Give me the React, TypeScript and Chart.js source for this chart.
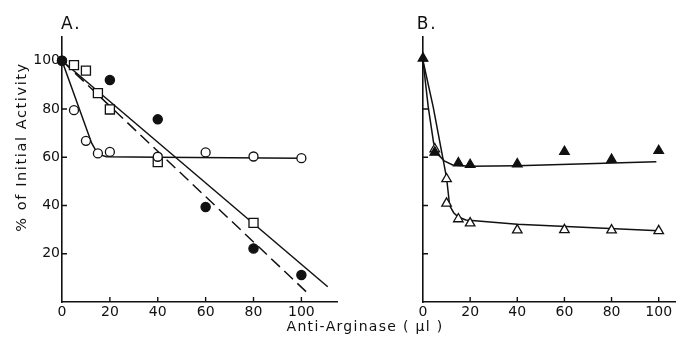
import React, { useEffect, useRef } from 'react';
import { Chart, registerables } from 'chart.js';

Chart.register(...registerables);

// ---------- tick values ----------
const xTickLabels = [0, 20, 40, 60, 80, 100];
const xTickMarks = [20, 40, 60, 80, 100];
const yTickLabelsA = [20, 40, 60, 80, 100];
const yTickMarks = [20, 40, 60, 80, 100];

// ---------- Panel A data ----------
const openCircleX = [0, 5, 10, 15, 20, 40, 60, 80, 100];
const openCircleY = [100, 79.5, 66.8, 61.6, 62.2, 60.2, 62, 60.3, 59.6];
const filledCircleX = [0, 20, 40, 60, 80, 100];
const filledCircleY = [100, 92, 75.7, 39.4, 22.2, 11.2];
const openSquareX = [5, 10, 15, 20, 40, 80];
const openSquareY = [98.2, 95.9, 86.6, 79.8, 58, 32.8];

const fitSolidX = [0, 111];
const fitSolidY = [100, 6.3];
const fitDashedX = [0, 103];
const fitDashedY = [100, 3.3];
const fitCircleX = [0, 12.4, 15, 18.6, 40, 100];
const fitCircleY = [100, 65.8, 61.3, 60.2, 60, 59.6];

// ---------- Panel B data ----------
const filledTriX = [0, 5, 15, 20, 40, 60, 80, 100];
const filledTriY = [101, 62, 57.6, 56.9, 57.2, 62.3, 59, 62.7];
const openTriX = [5, 10, 10, 15, 20, 40, 60, 80, 100];
const openTriY = [63.4, 51, 40.9, 34.4, 32.7, 29.8, 29.9, 29.8, 29.5];

const fitFilledTriX = [0, 2.2, 4.5, 6.5, 9, 12.6, 20, 40, 99];
const fitFilledTriY = [100, 81, 66, 61, 58.5, 56.8, 56.3, 56.5, 58.1];
const fitOpenTriX = [0, 4.3, 10, 11.3, 13, 15, 18.2, 40, 100];
const fitOpenTriY = [100, 81, 51.5, 40, 37, 35.2, 34, 32.2, 29.5];

const INK = '#111';
const FONT = 'DejaVu Sans';

const pts = (xs: number[], ys: number[]) => xs.map((x, i) => ({ x, y: ys[i] }));

// Lines get a high `order` so they are drawn beneath the markers.
const lineDs = (xs: number[], ys: number[], dash: number[] = []) => ({
  data: pts(xs, ys),
  showLine: true,
  borderColor: INK,
  borderWidth: 1.5,
  borderDash: dash,
  pointRadius: 0,
  fill: false,
  tension: 0,
  order: 10,
  clip: false as any,
});

const pointDs = (xs: number[], ys: number[], style: string, filled: boolean, radius: number, order: number) => ({
  data: pts(xs, ys),
  showLine: false,
  pointStyle: style,
  pointRadius: radius,
  pointBackgroundColor: filled ? INK : '#fff',
  pointBorderColor: INK,
  pointBorderWidth: 1.3,
  order,
  clip: false as any,
});

const tickMarkPlugin = (xs: number[], ys: number[]) => ({
  id: 'tickMarks',
  beforeDatasetsDraw(chart: any) {
    const { ctx, chartArea, scales } = chart;
    ctx.save();
    ctx.strokeStyle = INK;
    ctx.lineWidth = 1.4;
    ctx.beginPath();
    xs.forEach((v) => {
      const px = scales.x.getPixelForValue(v);
      ctx.moveTo(px, chartArea.bottom);
      ctx.lineTo(px, chartArea.bottom - 5);
    });
    ys.forEach((v) => {
      const py = scales.y.getPixelForValue(v);
      ctx.moveTo(chartArea.left, py);
      ctx.lineTo(chartArea.left + 5, py);
    });
    ctx.stroke();
    ctx.restore();
  },
});

const makeScales = (xMax: number, yAxisWidth: number, showYLabels: boolean) => ({
  x: {
    type: 'linear',
    min: 0,
    max: xMax,
    afterBuildTicks: (s: any) => {
      s.ticks = xTickLabels.map((v) => ({ value: v }));
    },
    afterFit: (s: any) => {
      s.height = 41;
    },
    ticks: { font: { family: FONT, size: 14 }, color: INK, padding: 2, maxRotation: 0 },
    grid: { display: false, drawTicks: false },
    border: { display: true, color: INK, width: 1.6 },
  },
  y: {
    type: 'linear',
    min: 0,
    max: 110,
    afterBuildTicks: (s: any) => {
      s.ticks = yTickLabelsA.map((v) => ({ value: v }));
    },
    afterFit: (s: any) => {
      s.width = yAxisWidth;
    },
    ticks: { display: showYLabels, font: { family: FONT, size: 14 }, color: INK, padding: 2 },
    grid: { display: false, drawTicks: false },
    border: { display: true, color: INK, width: 1.6 },
  },
});

const baseOptions = (xMax: number, yAxisWidth: number, showYLabels: boolean, padRight: number) => ({
  responsive: false,
  animation: false,
  devicePixelRatio: 1,
  layout: { padding: { left: 0, right: padRight, top: 36.6, bottom: 0 } },
  plugins: { legend: { display: false }, tooltip: { enabled: false } },
  scales: makeScales(xMax, yAxisWidth, showYLabels),
});

export default function App() {
  const refA = useRef<HTMLCanvasElement | null>(null);
  const refB = useRef<HTMLCanvasElement | null>(null);

  useEffect(() => {
    const chartA = new Chart(refA.current as HTMLCanvasElement, {
      type: 'scatter',
      data: {
        datasets: [
          pointDs(filledCircleX, filledCircleY, 'circle', true, 4.6, 1),
          pointDs(openCircleX, openCircleY, 'circle', false, 4.5, 2),
          pointDs(openSquareX, openSquareY, 'rect', false, 6.4, 3),
          lineDs(fitSolidX, fitSolidY),
          lineDs(fitDashedX, fitDashedY, [12, 6]),
          lineDs(fitCircleX, fitCircleY),
        ] as any,
      },
      options: baseOptions(115, 62, true, 7) as any,
      plugins: [tickMarkPlugin(xTickMarks, yTickMarks)],
    });

    const chartB = new Chart(refB.current as HTMLCanvasElement, {
      type: 'scatter',
      data: {
        datasets: [
          pointDs(filledTriX, filledTriY, 'triangle', true, 5.5, 1),
          pointDs(openTriX, openTriY, 'triangle', false, 5.5, 2),
          lineDs(fitFilledTriX, fitFilledTriY),
          lineDs(fitOpenTriX, fitOpenTriY),
        ] as any,
      },
      options: baseOptions(107, 78, false, 2.2) as any,
      plugins: [tickMarkPlugin(xTickMarks, yTickMarks)],
    });

    return () => {
      chartA.destroy();
      chartB.destroy();
    };
  }, []);

  const textBase: React.CSSProperties = {
    position: 'absolute',
    fontFamily: FONT,
    color: INK,
    whiteSpace: 'nowrap',
  };

  return (
    <div style={{ position: 'absolute', left: 0, top: 0, width: 682, height: 343, background: '#fff', overflow: 'hidden' }}>
      <canvas ref={refA} width={345} height={343} style={{ position: 'absolute', left: 0, top: 0 }} />
      <canvas ref={refB} width={337} height={343} style={{ position: 'absolute', left: 345, top: 0 }} />
      <div style={{ ...textBase, left: 61, top: 14.7, fontSize: 17, lineHeight: '17px', letterSpacing: 2 }}>A.</div>
      <div style={{ ...textBase, left: 416.7, top: 14.7, fontSize: 17, lineHeight: '17px', letterSpacing: 2 }}>B.</div>
      <div
        style={{
          ...textBase,
          left: 365 - 150,
          width: 300,
          top: 318.6,
          fontSize: 14,
          lineHeight: '14px',
          letterSpacing: 1.3,
          textAlign: 'center',
        }}
      >
        Anti-Arginase ( μl )
      </div>
      <div
        style={{
          ...textBase,
          left: 20.7 - 100,
          top: 146.7 - 8,
          width: 200,
          height: 16,
          fontSize: 14.5,
          lineHeight: '16px',
          letterSpacing: 1.6,
          textAlign: 'center',
          transform: 'rotate(-90deg)',
        }}
      >
        % of Initial Activity
      </div>
    </div>
  );
}
